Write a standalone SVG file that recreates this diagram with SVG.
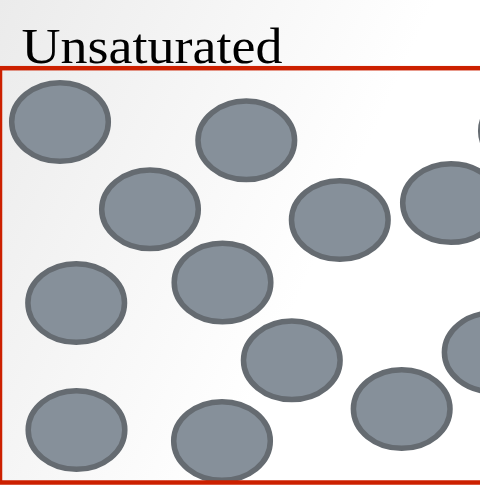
<svg xmlns="http://www.w3.org/2000/svg" width="480" height="485" viewBox="0 0 480 485">
  <defs>
    <linearGradient id="bg" gradientUnits="userSpaceOnUse" x1="0" y1="0" x2="480" y2="220">
      <stop offset="0" stop-color="#ebebeb"/>
      <stop offset="0.75" stop-color="#ffffff"/>
      <stop offset="1" stop-color="#ffffff"/>
    </linearGradient>
    <style>
      .p { fill: #86909a; stroke: #656b71; stroke-width: 5.5; }
      .title { font-family: "Liberation Serif", "Times New Roman", serif; font-size: 50px; fill: #000000; }
      .frame { fill: none; stroke: #cc2000; stroke-width: 4.5; }
    </style>
  </defs>
  <rect x="0" y="0" width="480" height="485" fill="url(#bg)"/>
  <text class="title" x="21.5" y="63" textLength="261" lengthAdjust="spacingAndGlyphs">Unsaturated</text>
  <g id="particles">
    <g id="p1"><ellipse class="p" cx="60" cy="122" rx="48.3" ry="39.3"/></g>
    <g id="p2"><ellipse class="p" cx="246.3" cy="140.3" rx="48.3" ry="39.3"/></g>
    <g id="p3"><ellipse class="p" cx="150" cy="209.3" rx="48.3" ry="39.3"/></g>
    <g id="p4"><ellipse class="p" cx="339.8" cy="220" rx="48.3" ry="39.3"/></g>
    <g id="p5"><ellipse class="p" cx="451" cy="203" rx="48.3" ry="39.3"/></g>
    <g id="p6"><ellipse class="p" cx="529" cy="131" rx="48.3" ry="39.3"/></g>
    <g id="p7"><ellipse class="p" cx="76.2" cy="303" rx="48.3" ry="39.3"/></g>
    <g id="p8"><ellipse class="p" cx="222.5" cy="282.5" rx="48.3" ry="39.3"/></g>
    <g id="p9"><ellipse class="p" cx="291.8" cy="360.3" rx="48.3" ry="39.3"/></g>
    <g id="p10"><ellipse class="p" cx="401.7" cy="409" rx="48.3" ry="39.3"/></g>
    <g id="p11"><ellipse class="p" cx="492.7" cy="352.3" rx="48.3" ry="39.3"/></g>
    <g id="p12"><ellipse class="p" cx="76.5" cy="430" rx="48.3" ry="39.3"/></g>
    <g id="p13"><ellipse class="p" cx="222" cy="441" rx="48.3" ry="39.3"/></g>
  </g>
  <rect class="frame" x="0" y="68.2" width="500" height="414.3"/>
</svg>
